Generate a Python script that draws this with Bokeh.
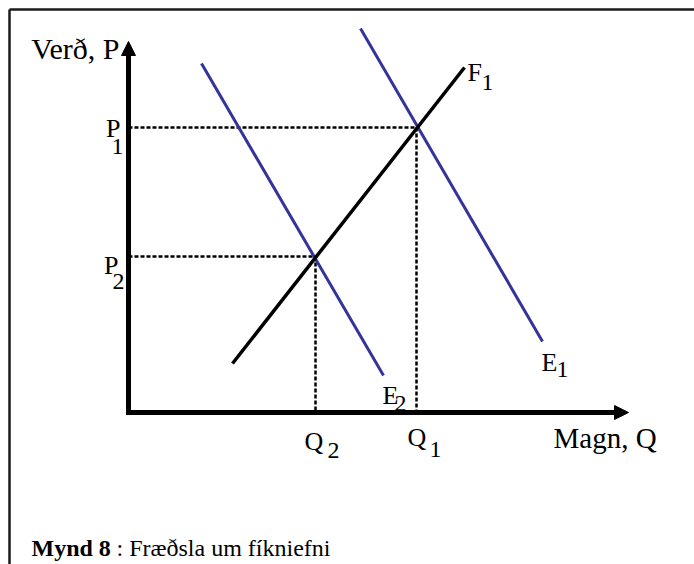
from bokeh.plotting import figure
from bokeh.models import Range1d, Arrow, NormalHead
from bokeh.core.properties import value
from bokeh.embed import file_html
from bokeh.resources import INLINE

# Schematic supply/demand data (units of the price/quantity plane)
supply_q = [10.4, 33.6]      # F1
supply_p = [4.9, 34.5]
demand1_q = [23.2, 41.4]     # E1
demand1_p = [38.4, 7.1]
demand2_q = [7.3, 25.5]      # E2
demand2_p = [34.9, 3.7]
eq_q = [28.8, 18.7]          # Q1, Q2
eq_p = [28.5, 15.6]          # P1, P2
axis_max_q = 50.0
axis_max_p = 37.1
caption_bold = "Mynd 8"
caption_rest = ": Fræðsla um fíkniefni"

FONT = value("Liberation Serif")

p = figure(width=694, height=564, x_range=Range1d(-12.8, 56.6), y_range=Range1d(-15.2, 41.2),
           output_backend="svg", toolbar_location=None, min_border=0,
           x_axis_location=None, y_axis_location=None)
p.grid.visible = False
p.outline_line_color = None
p.background_fill_color = "white"
p.border_fill_color = "white"

# frame (left and top edges)
p.segment(x0=[-11.9, -11.9], y0=[-16, 40.3], x1=[-11.9, 60], y1=[40.3, 40.3],
          line_color="#1a1a1a", line_width=2.5)

# dashed guides
for q, pr in zip(eq_q, eq_p):
    p.line([0, q], [pr, pr], line_color="black", line_width=2.5, line_dash="4 2")
    p.line([q, q], [pr, 0], line_color="black", line_width=2.5, line_dash="4 2")

# curves
p.line(demand1_q, demand1_p, line_color="#333399", line_width=3)
p.line(demand2_q, demand2_p, line_color="#333399", line_width=3)
p.line(supply_q, supply_p, line_color="black", line_width=3.5)

# axes with arrow heads
head_q = axis_max_q - 1.4
head_p = axis_max_p - 1.2
p.line([-0.25, head_q], [0, 0], line_color="black", line_width=5)
p.line([0, 0], [-0.25, head_p], line_color="black", line_width=5)
p.add_layout(Arrow(end=NormalHead(size=14, fill_color="black", line_color="black"),
                   x_start=head_q, y_start=0, x_end=axis_max_q, y_end=0, line_alpha=0))
p.add_layout(Arrow(end=NormalHead(size=14, fill_color="black", line_color="black"),
                   x_start=0, y_start=head_p, x_end=0, y_end=axis_max_p, line_alpha=0))

def txt(x, y, s, size, dx, dy, align="left", style="normal"):
    p.text(x=[x], y=[y], text=[s], text_font=FONT, text_font_size=value(size),
           text_font_style=style,
           text_color="black", x_offset=dx, y_offset=dy, text_align=align,
           text_baseline="alphabetic")

# axis titles
txt(0, axis_max_p, "Verð, P", "30px", -9, 7, "right")
txt(axis_max_q, 0, "Magn, Q", "29px", -75, 25)

# price labels
txt(0, eq_p[0], "P", "26px", -8, 1, "right")
txt(0, eq_p[0], "1", "24px", -5, 19, "right")
txt(0, eq_p[1], "P", "26px", -10, 9, "right")
txt(0, eq_p[1], "2", "24px", -4, 25, "right")

# quantity labels
txt(eq_q[0], 0, "Q", "26px", -9, 25)
txt(eq_q[0], 0, "1", "24px", 13, 37)
txt(eq_q[1], 0, "Q", "26px", -11, 29)
txt(eq_q[1], 0, "2", "24px", 12, 38)

# curve labels
txt(supply_q[1], supply_p[1], "F", "26px", 3, 5)
txt(supply_q[1], supply_p[1], "1", "24px", 17, 15)
txt(demand1_q[1], demand1_p[1], "E", "26px", -1, 21)
txt(demand1_q[1], demand1_p[1], "1", "24px", 14, 28)
txt(demand2_q[1], demand2_p[1], "E", "26px", -1, 20)
txt(demand2_q[1], demand2_p[1], "2", "24px", 11, 28)

# caption (anchored under the y axis origin)
txt(0, 0, caption_bold, "24px", -97, 135, "left", "bold")
txt(0, 0, caption_rest, "24px", -12, 135, "left")

open("out.html", "w").write(file_html(p, INLINE))
